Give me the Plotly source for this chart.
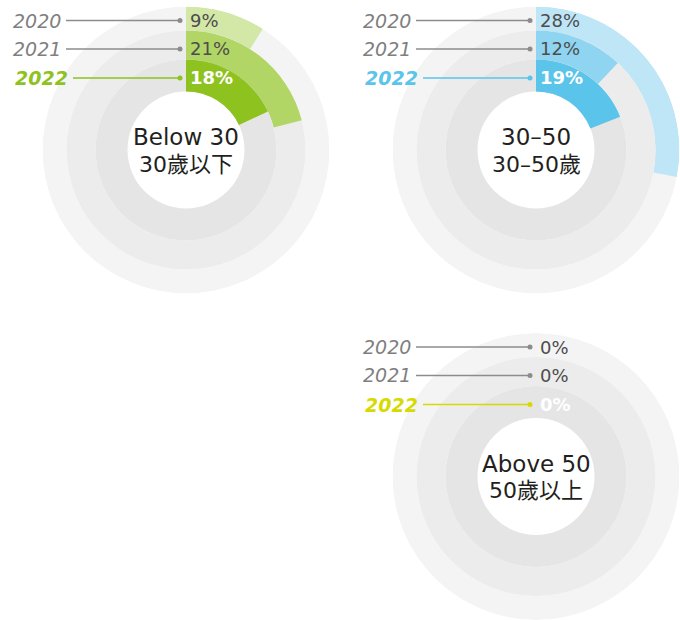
import plotly.graph_objects as go

# Age groups, one ring chart each
groups_en = ["Below 30", "30–50", "Above 50"]
groups_zh = ["30歲以下", "30–50歲", "50歲以上"]
years = ["2020", "2021", "2022"]

# Share (%) per age group and year
pct_2020 = [9, 28, 0]
pct_2021 = [21, 12, 0]
pct_2022 = [18, 19, 0]

# ---- styling ----
W, H = 680, 620
centers = [(186, 150), (536, 150), (536, 476.5)]   # pixel centre of each ring chart
R_OUT = 143.5
ring_edges = {"2020": (119.5, 143.5), "2021": (90.5, 119.5), "2022": (58.5, 90.5)}
ring_bg = {"2020": "#F4F4F4", "2021": "#ECECEC", "2022": "#E5E5E5"}
palettes = [
    {"2020": "#D3E7A7", "2021": "#B1D665", "2022": "#8DC21F"},
    {"2020": "#BEE6F6", "2021": "#8FD5F1", "2022": "#5AC4EB"},
    {"2020": "#EEF09A", "2021": "#E3E65A", "2022": "#D6DA00"},
]
label_y_off = {"2020": -129.5, "2021": -101, "2022": -72}
GREY_LINE = "#8C8C8C"
YEAR_GREY = "#7F7F7F"
VALUE_GREY = "#4D4D4D"
DARK = "#231F20"
FONT = "DejaVu Sans, Noto Sans CJK TC, sans-serif"

values = {"2020": pct_2020, "2021": pct_2021, "2022": pct_2022}


def px(x):
    return min(max(x / W, 0), 1)


def py(y):
    return min(max(1 - y / H, 0), 1)


fig = go.Figure()
annotations = []
shapes = []

for g, (cx, cy) in enumerate(centers):
    pname = "polar" if g == 0 else f"polar{g + 1}"
    sub = "polar" if g == 0 else f"polar{g + 1}"
    for yr in years:
        r0, r1 = ring_edges[yr]
        # full background ring
        fig.add_trace(go.Barpolar(
            r=[r1 - r0], base=[r0], theta=[180], width=[360],
            marker=dict(color=ring_bg[yr], line=dict(width=0)),
            subplot=sub, showlegend=False, hoverinfo="skip"))
        v = values[yr][g]
        if v > 0:
            fig.add_trace(go.Barpolar(
                r=[r1 - r0], base=[r0], theta=[v * 1.8], width=[v * 3.6],
                marker=dict(color=palettes[g][yr], line=dict(width=0)),
                subplot=sub, showlegend=False,
                hovertemplate=f"{groups_en[g]} {yr}: {v}%<extra></extra>"))

    fig.layout[pname] = dict(
        domain=dict(x=[px(cx - R_OUT), px(cx + R_OUT)],
                    y=[py(cy + R_OUT), py(cy - R_OUT)]),
        bgcolor="rgba(0,0,0,0)",
        radialaxis=dict(range=[0, R_OUT], visible=False),
        angularaxis=dict(visible=False, rotation=90, direction="clockwise"),
        barmode="overlay",
    )

    # year labels, leader lines and values
    for yr in years:
        ly = cy + label_y_off[yr]
        is_cur = yr == "2022"
        accent = palettes[g]["2022"]
        line_col = accent if is_cur else GREY_LINE
        x_start = cx - 113 if is_cur else cx - 120
        shapes.append(dict(type="line", xref="paper", yref="paper",
                           x0=px(x_start), x1=px(cx - 6), y0=py(ly), y1=py(ly),
                           line=dict(color=line_col, width=1.5)))
        shapes.append(dict(type="circle", xref="paper", yref="paper",
                           x0=px(cx - 8.5), x1=px(cx - 3.5),
                           y0=py(ly + 2.5), y1=py(ly - 2.5),
                           fillcolor=line_col, line=dict(width=0)))
        annotations.append(dict(
            x=px(x_start - 3), y=py(ly), xref="paper", yref="paper",
            xanchor="right", yanchor="middle", showarrow=False,
            text=f"<b><i>{yr}</i></b>" if is_cur else f"<i>{yr}</i>",
            font=dict(family=FONT, size=19, color=accent if is_cur else YEAR_GREY)))
        v = values[yr][g]
        annotations.append(dict(
            x=px(cx + 2), y=py(ly), xref="paper", yref="paper",
            xanchor="left", yanchor="middle", showarrow=False,
            text=f"<b>{v}%</b>" if is_cur else f"{v}%",
            font=dict(family=FONT, size=18, color="white" if is_cur else VALUE_GREY)))

    # centre title
    annotations.append(dict(
        x=px(cx), y=py(cy - 13), xref="paper", yref="paper",
        xanchor="center", yanchor="middle", showarrow=False,
        text=groups_en[g], font=dict(family=FONT, size=23, color=DARK)))
    annotations.append(dict(
        x=px(cx), y=py(cy + 14), xref="paper", yref="paper",
        xanchor="center", yanchor="middle", showarrow=False,
        text=groups_zh[g], font=dict(family=FONT, size=22, color=DARK)))

fig.update_layout(
    width=W, height=H,
    margin=dict(l=0, r=0, t=0, b=0),
    paper_bgcolor="white",
    plot_bgcolor="white",
    annotations=annotations,
    shapes=shapes,
    showlegend=False,
)

fig.write_html("out.html")
